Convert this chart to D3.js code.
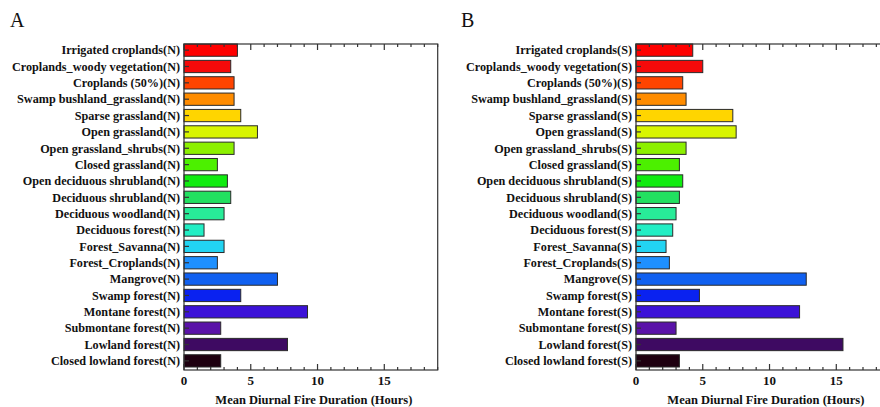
<!DOCTYPE html>
<html><head><meta charset="utf-8">
<script src="https://cdn.jsdelivr.net/npm/d3@7"></script>
<style>body{margin:0;background:#fff}svg{display:block}</style>
</head><body><svg id="c" width="880" height="407"></svg>
<script>
const baseCategories = ["Irrigated croplands","Croplands_woody vegetation","Croplands (50%)","Swamp bushland_grassland","Sparse grassland","Open grassland","Open grassland_shrubs","Closed grassland","Open deciduous shrubland","Deciduous shrubland","Deciduous woodland","Deciduous forest","Forest_Savanna","Forest_Croplands","Mangrove","Swamp forest","Montane forest","Submontane forest","Lowland forest","Closed lowland forest"];
const valuesN = [4.0,3.5,3.75,3.75,4.25,5.5,3.75,2.5,3.25,3.5,3.0,1.5,3.0,2.5,7.0,4.25,9.25,2.75,7.75,2.75];
const valuesS = [4.25,5.0,3.5,3.75,7.25,7.5,3.75,3.25,3.5,3.25,3.0,2.75,2.25,2.5,12.75,4.75,12.25,3.0,15.5,3.25];
const barColors = ["#ff0000","#f50a0a","#ff4400","#ff8c00","#ffd500","#d8f500","#8cf000","#4cf000","#10ec10","#22e060","#28ec98","#22eec4","#22d4f2","#1e90ff","#1060f0","#0a22f0","#3c12d8","#5a12a8","#3e0a62","#1e0010"];
const xTicks = [0,5,10,15];
const xDomain = [0,19];
const panels = [
  {letter:"A", suffix:"(N)", values:valuesN, x0:184, x1:437.7, lx:10, labelX:180},
  {letter:"B", suffix:"(S)", values:valuesS, x0:636, x1:889.7, lx:461, labelX:632}
];
const svg = d3.select("#c");
const yTop = 44, yBot = 370;
const font = "'Liberation Serif','Times New Roman',serif";
const axisCol = "#333";
panels.forEach(p => {
  const cats = baseCategories.map(c => c + p.suffix);
  const x = d3.scaleLinear().domain(xDomain).range([p.x0, p.x1]);
  const y = d3.scaleBand().domain(cats).range([yTop, 367]).paddingInner(0.25).paddingOuter(0);
  const g = svg.append("g");
  g.append("text").attr("x", p.lx).attr("y", 27).attr("font-family", font).attr("font-size", 20).attr("fill", "#111").text(p.letter);
  g.selectAll("rect.bar").data(p.values).join("rect")
    .attr("x", x(0)).attr("y", (d,i) => y(cats[i]))
    .attr("width", d => x(d) - x(0)).attr("height", y.bandwidth())
    .attr("fill", (d,i) => barColors[i]).attr("stroke", "#2a2a2a").attr("stroke-width", 1);
  g.append("rect").attr("x", p.x0).attr("y", yTop).attr("width", p.x1 - p.x0).attr("height", yBot - yTop)
    .attr("fill", "none").attr("stroke", axisCol).attr("stroke-width", 1.2);
  const minor = d3.range(0, 20, 1);
  minor.forEach(v => {
    const major = xTicks.includes(v);
    const len = major ? 6 : 3;
    g.append("line").attr("x1", x(v)).attr("x2", x(v)).attr("y1", yBot).attr("y2", yBot - len).attr("stroke", axisCol).attr("stroke-width", 1.2);
    g.append("line").attr("x1", x(v)).attr("x2", x(v)).attr("y1", yTop).attr("y2", yTop + len).attr("stroke", axisCol).attr("stroke-width", 1.2);
  });
  g.selectAll("text.xt").data(xTicks).join("text")
    .attr("x", d => x(d)).attr("y", 385).attr("text-anchor", "middle")
    .attr("font-family", font).attr("font-weight", "bold").attr("font-size", 13).attr("fill", "#111").text(d => d);
  g.append("text").attr("x", (p.x0 + p.x1) / 2 + 3).attr("y", 404).attr("text-anchor", "middle")
    .attr("font-family", font).attr("font-weight", "bold").attr("font-size", 12.5).attr("fill", "#111")
    .text("Mean Diurnal Fire Duration (Hours)");
  cats.forEach(c => {
    const cy = y(c) + y.bandwidth() / 2;
    g.append("line").attr("x1", p.x0).attr("x2", p.x0 + 5).attr("y1", cy).attr("y2", cy).attr("stroke", axisCol).attr("stroke-width", 1.2);
    g.append("text").attr("x", p.labelX).attr("y", cy).attr("dy", "0.35em").attr("text-anchor", "end")
      .attr("font-family", font).attr("font-weight", "bold").attr("font-size", 12.2).attr("fill", "#111").text(c);
  });
});
</script></body></html>
